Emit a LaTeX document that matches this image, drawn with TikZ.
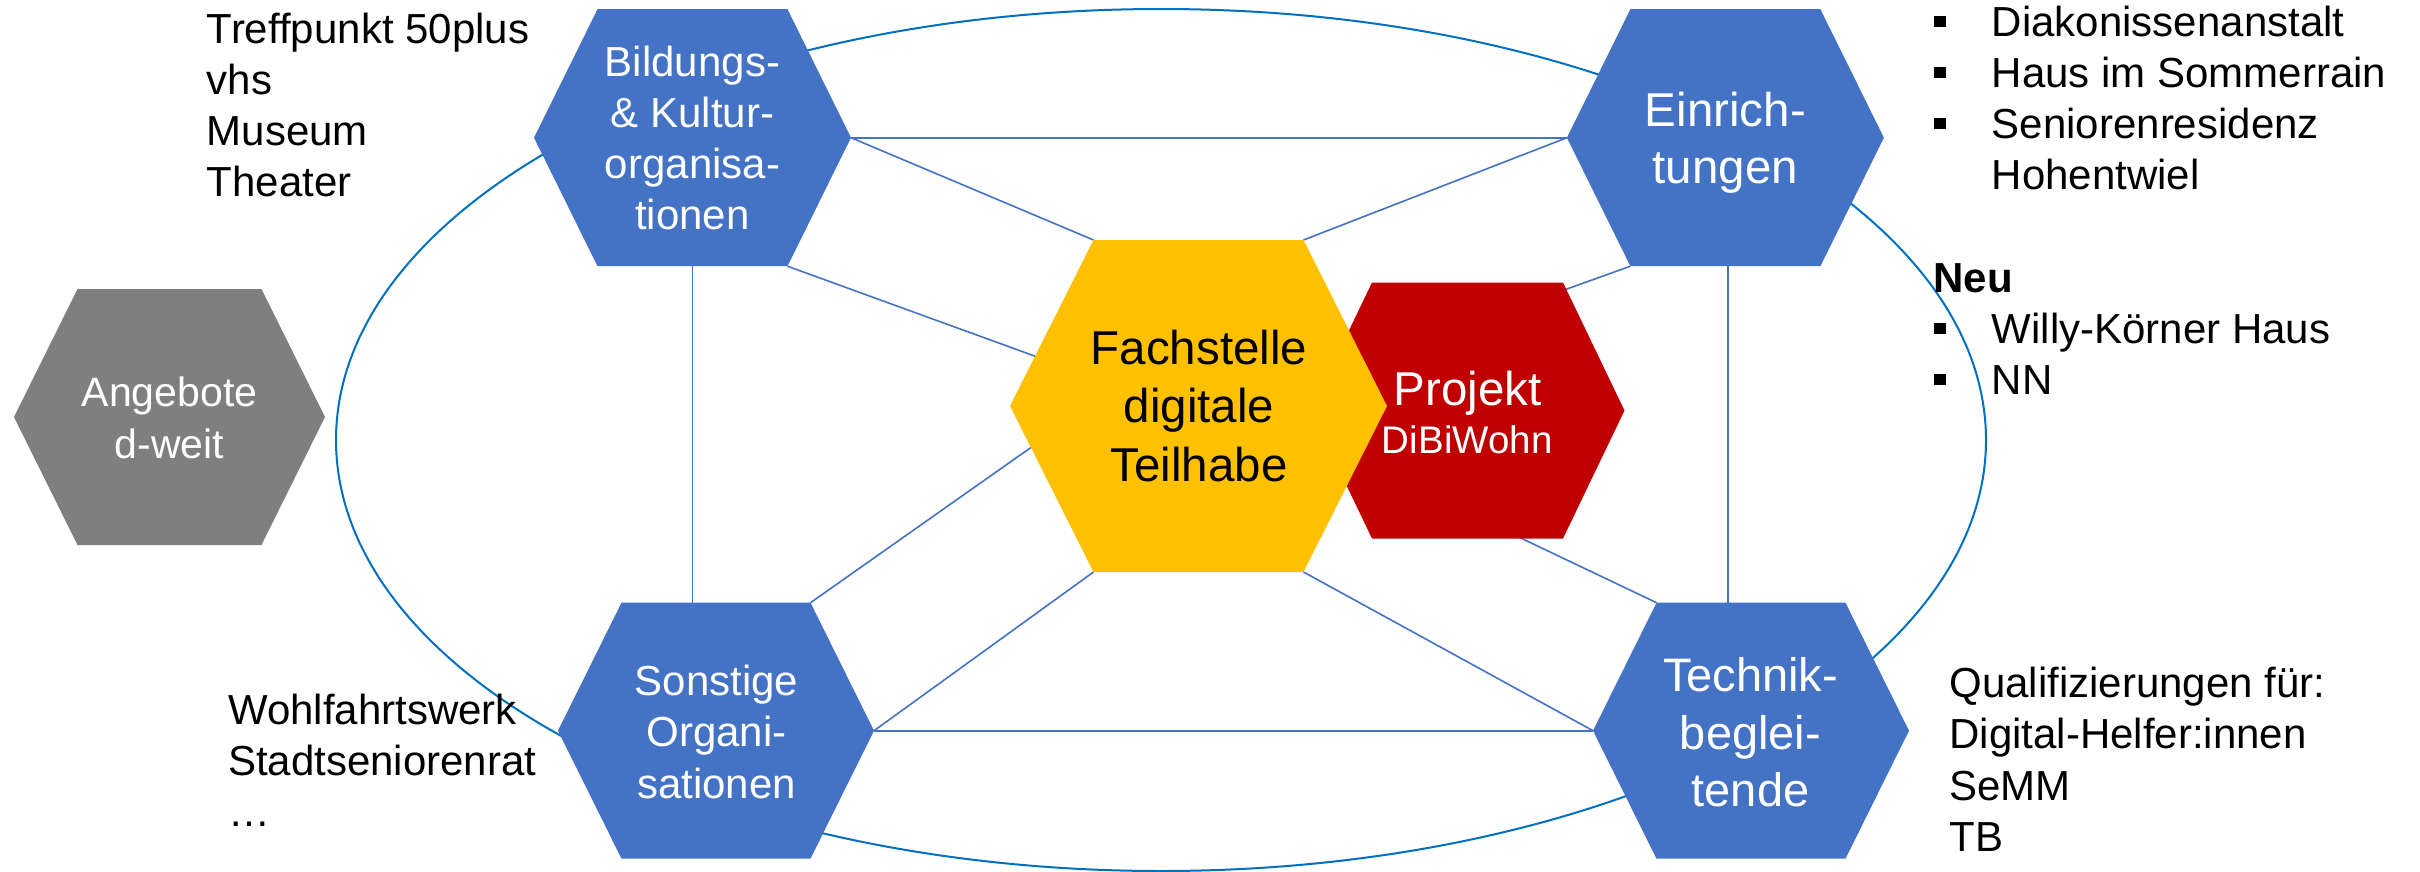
\documentclass[tikz,border=0pt]{standalone}
\usepackage{fontspec}
\setmainfont{Liberation Sans}
\usetikzlibrary{calc}
\definecolor{hexblue}{HTML}{4472C4}
\definecolor{ellblue}{HTML}{0070C0}
\definecolor{hexgrey}{HTML}{7F7F7F}
\definecolor{hexyellow}{HTML}{FFC000}
\definecolor{hexred}{HTML}{C00000}
\newcommand\hexdef[6]{%
  \coordinate (#1-l) at ({#2-#4},#3);
  \coordinate (#1-r) at ({#2+#4},#3);
  \coordinate (#1-tl) at ({#2-#5},{#3-#6});
  \coordinate (#1-tr) at ({#2+#5},{#3-#6});
  \coordinate (#1-bl) at ({#2-#5},{#3+#6});
  \coordinate (#1-br) at ({#2+#5},{#3+#6});
  \coordinate (#1-t) at (#2,{#3-#6});
  \coordinate (#1-b) at (#2,{#3+#6});
}
\newcommand\hexfill[2]{\fill[#2] (#1-l) -- (#1-tl) -- (#1-tr) -- (#1-r) -- (#1-br) -- (#1-bl) -- cycle;}
\newcommand\bulsq{\makebox[58.4pt][l]{\raisebox{9.5pt}{\rule{12.5pt}{11pt}}}}
\begin{document}
\begin{tikzpicture}[x=1pt,y=-1pt,
  link/.style={hexblue, line width=1.6pt},
  ring/.style={ellblue, line width=2pt},
  hextext/.style={inner sep=0pt, align=center, anchor=base},
  sidetext/.style={inner sep=0pt, align=left, anchor=base west, font=\fontsize{42}{51.2}\selectfont}]
\useasboundingbox (0,0) rectangle (2420,871);
\fill[white] (0,0) rectangle (2420,871);

\hexdef{bild}{692.5}{137.7}{158.5}{95}{128.5}
\hexdef{einr}{1725.4}{137.7}{158.5}{95}{128.5}
\hexdef{sonst}{716}{730.7}{158}{94.5}{128}
\hexdef{tech}{1751}{730.7}{158}{94.5}{128}
\hexdef{ang}{169.5}{417}{155.5}{92}{128}
\hexdef{fach}{1198.5}{406}{188.5}{105}{166}
\hexdef{proj}{1467.5}{410.5}{157}{95.5}{128}

% ring
\coordinate (ringc) at (1161,440);
\draw[ring] (ringc) ellipse [x radius=825pt, y radius=431pt];

% connectors
\coordinate (vx) at (1728,0);
\draw[link] (bild-r) -- (einr-l);
\draw[link] (bild-r) -- (fach-tl);
\draw[link] (bild-br) -- ($(fach-l)!0.3!(fach-tl)$);
\draw[link] (bild-b) -- (bild-b |- sonst-t);
\draw[link] (einr-l) -- (fach-tr);
\coordinate (pin1) at (1500,313);
\draw[link] (einr-bl) -- (pin1);
\coordinate (pin2) at (1480,518.6);
\draw[link] (tech-tl) -- (pin2);
\draw[link] (vx |- einr-b) -- (vx |- tech-t);
\draw[link] (sonst-tr) -- ($(fach-l)!0.25!(fach-bl)$);
\draw[link] (sonst-r) -- (fach-bl);
\draw[link] (sonst-r) -- (tech-l);
\draw[link] (fach-br) -- (tech-l);

% hexagons
\hexfill{ang}{hexgrey}
\hexfill{bild}{hexblue}
\hexfill{einr}{hexblue}
\hexfill{sonst}{hexblue}
\hexfill{tech}{hexblue}
\hexfill{proj}{hexred}
\hexfill{fach}{hexyellow}

% hexagon texts (anchor = baseline of last line)
\node[hextext, white, font=\fontsize{42}{51.3}\selectfont] (bild) at (692.5,229.9) {Bildungs-\\\& Kultur-\\organisa-\\tionen};
\node[hextext, white, font=\fontsize{47.5}{57}\selectfont] (einr) at (1725.4,183) {Einrich-\\tungen};
\node[hextext, white, font=\fontsize{42}{51.7}\selectfont] (sonst) at (716.5,798.4) {Sonstige\\Organi-\\sationen};
\node[hextext, white, font=\fontsize{47}{57.5}\selectfont] (tech) at (1750.5,806.7) {Technik-\\beglei-\\tende};
\node[hextext, white, font=\fontsize{41}{51.6}\selectfont] (ang) at (169.5,458.3) {Angebote\\d-weit};
\node[hextext, black, font=\fontsize{47.5}{58.3}\selectfont] (fach) at (1199,481.1) {Fachstelle\\digitale\\Teilhabe};
\node[hextext, white, font=\fontsize{47.5}{57}\selectfont] (proj) at (1467.8,405) {Projekt};
\node[hextext, white, font=\fontsize{38.5}{46}\selectfont] (projsub) at (1467.2,453.3) {DiBiWohn};

% side texts
\node[sidetext] (lefttop) at (206.7,196.9) {Treffpunkt 50plus\\vhs\\Museum\\Theater};
\node[sidetext] (leftbot) at (228,826.4) {Wohlfahrtswerk\\Stadtseniorenrat\\…};
\node[sidetext] (righttop) at (1933.3,394.4) {\bulsq Diakonissenanstalt\\\bulsq Haus im Sommerrain\\\bulsq Seniorenresidenz\\\hspace*{58.4pt}Hohentwiel\\[51.2pt]\textbf{Neu}\\\bulsq Willy-Körner Haus\\\bulsq NN};
\node[sidetext] (rightbot) at (1949.3,851.3) {Qualifizierungen für:\\Digital-Helfer:innen\\SeMM\\TB};
\end{tikzpicture}
\end{document}
